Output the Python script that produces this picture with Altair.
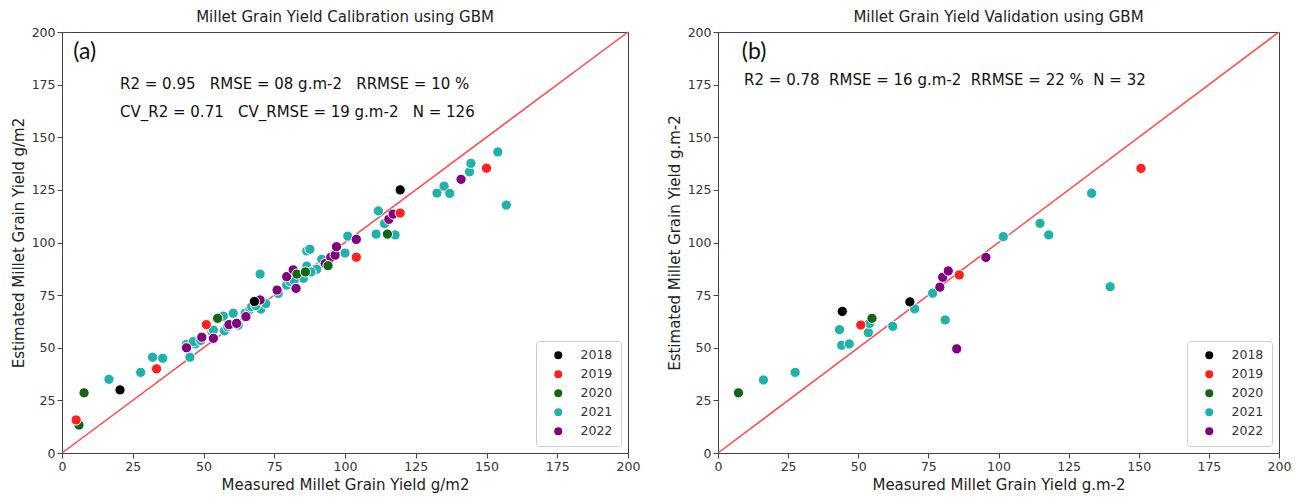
import altair as alt
import pandas as pd

years = ["2018", "2019", "2020", "2021", "2022"]
colors = ["#000000", "#ff2020", "#166416", "#20b2aa", "#800080"]
ticks = [0, 25, 50, 75, 100, 125, 150, 175, 200]

# ---------------- Calibration (a) ----------------
cal_2018_x = [20.5, 68, 119.5]
cal_2018_y = [30, 72, 125]
cal_2019_x = [5, 33.4, 51, 104, 119.5, 150]
cal_2019_y = [15.7, 40, 61, 93, 114, 135.3]
cal_2020_x = [6, 7.8, 55, 83, 86, 94, 115]
cal_2020_y = [13.3, 28.6, 64, 85, 86, 89, 104]
cal_2021_x = [16.6, 27.8, 32, 35.6, 44.5, 45.2, 47, 44, 46.4, 53, 53.5, 57.4, 57, 60.5,
              62.3, 64.7, 66.4, 67, 69.7, 70.3, 70, 76.4, 79.4, 80.6, 84, 85.3, 86.5,
              86.5, 87.6, 90, 91.8, 100, 101, 111, 111.8, 114, 117.7, 132.5, 135, 137,
              144, 144.5, 154, 157, 72, 58.5, 49, 82, 88, 96, 68.5]
cal_2021_y = [35, 38.3, 45.5, 45, 50.5, 45.5, 51.8, 51.6, 52.9, 57.6, 58.4, 58, 65, 66.4,
              60.8, 66.4, 68.3, 69.5, 71.9, 68.4, 85, 75.8, 79.8, 81.4, 83.8, 83, 88.8,
              96, 96.8, 87.3, 92, 95, 103, 104, 115, 109, 103.6, 123.5, 126.8, 123.3,
              133.6, 137.6, 143, 117.8, 71, 60, 53.5, 82, 86, 94, 70]
cal_2022_x = [44, 49.4, 53.5, 59, 61.7, 65, 70, 76, 79.4, 82.7, 81.7, 93, 95, 96.5, 97,
              104, 115.5, 117, 141]
cal_2022_y = [50, 55, 54.5, 61, 61.6, 64.8, 72.7, 77.4, 83.8, 78.2, 87, 90, 93, 94, 98,
              101.5, 111, 113.5, 130]

# ---------------- Validation (b) ----------------
val_2018_x = [44.3, 68.4]
val_2018_y = [67.3, 71.8]
val_2019_x = [50.9, 86, 150.8]
val_2019_y = [60.8, 84.6, 135.2]
val_2020_x = [7.3, 54.9]
val_2020_y = [28.6, 64]
val_2021_x = [16.2, 27.5, 43.3, 44.1, 46.8, 53.6, 54, 62.3, 70.1, 76.5, 81, 101.7, 114.8,
              117.9, 133.2, 139.8]
val_2021_y = [34.7, 38.3, 58.6, 51.2, 51.8, 57.2, 61.6, 60.2, 68.5, 75.9, 63.2, 102.8, 109.1,
              103.6, 123.4, 79]
val_2022_x = [79.1, 80.1, 82.1, 85.1, 95.5]
val_2022_y = [78.8, 83.5, 86.5, 49.5, 92.9]

# annotation texts (non-breaking spaces keep the wide gaps)
NB = "\u00a0"
cal_title = "Millet Grain Yield Calibration using GBM"
val_title = "Millet Grain Yield Validation using GBM"
cal_xtitle = "Measured Millet Grain Yield g/m2"
cal_ytitle = "Estimated Millet Grain Yield g/m2"
val_xtitle = "Measured Millet Grain Yield g.m-2"
val_ytitle = "Estimated Millet Grain Yield g.m-2"
cal_letter = ["(a)"]
cal_letter_pos = [4.0, 190.5]
cal_stats = ["R2 = 0.95" + NB * 3 + "RMSE = 08 g.m-2" + NB * 3 + "RRMSE = 10 %",
             "CV_R2 = 0.71" + NB * 3 + "CV_RMSE = 19 g.m-2" + NB * 3 + "N = 126"]
cal_stats_x = [20.5, 20.5]
cal_stats_y = [175.3, 162.1]
val_letter = ["(b)"]
val_letter_pos = [8.5, 190.5]
val_stats = ["R2 = 0.78" + NB * 2 + "RMSE = 16 g.m-2" + NB * 2 + "RRMSE = 22 %" + NB * 2 + "N = 32"]
val_stats_x = [9.3]
val_stats_y = [177.2]

draw_order = ["2021", "2022", "2020", "2018", "2019"]


def build_df(d):
    rows = []
    for yr in draw_order:
        xs, ys = d[yr]
        for a, b in zip(xs, ys):
            rows.append({"measured": a, "estimated": b, "year": yr})
    return pd.DataFrame(rows)


cal_df = build_df({"2018": (cal_2018_x, cal_2018_y), "2019": (cal_2019_x, cal_2019_y),
                   "2020": (cal_2020_x, cal_2020_y), "2021": (cal_2021_x, cal_2021_y),
                   "2022": (cal_2022_x, cal_2022_y)})
val_df = build_df({"2018": (val_2018_x, val_2018_y), "2019": (val_2019_x, val_2019_y),
                   "2020": (val_2020_x, val_2020_y), "2021": (val_2021_x, val_2021_y),
                   "2022": (val_2022_x, val_2022_y)})

line_df = pd.DataFrame({"measured": [0, 200], "estimated": [0, 200]})

FONT = "DejaVu Sans"


def axis(title):
    return alt.Axis(values=ticks, title=title, grid=False, tickSize=5, labelPadding=2,
                    labelFontSize=12.5, labelFont=FONT, labelColor="#333333",
                    titleFontSize=15, titleFont=FONT, titleFontWeight="normal",
                    titleColor="#222222", titlePadding=5, domainColor="#444444",
                    tickColor="#444444", labelFlush=False, labelOverlap=False)


def panel(df, title, xtitle, ytitle, letter, letter_pos, stats, sx, sy, w):
    X = alt.X("measured:Q", scale=alt.Scale(domain=[0, 200], nice=False, zero=False),
              axis=axis(xtitle))
    Y = alt.Y("estimated:Q", scale=alt.Scale(domain=[0, 200], nice=False, zero=False),
              axis=axis(ytitle))
    line = alt.Chart(line_df).mark_line(color="#ff4a4a", strokeWidth=1.5).encode(x=X, y=Y)
    pts = alt.Chart(df).mark_circle(size=105, opacity=1, stroke="white", strokeWidth=1).encode(
        x=X, y=Y,
        color=alt.Color("year:N", scale=alt.Scale(domain=years, range=colors),
                        legend=alt.Legend(title=None, orient="bottom-right", offset=7,
                                          fillColor="white", strokeColor="#cccccc",
                                          cornerRadius=3, padding=8, rowPadding=6,
                                          symbolSize=64, symbolOffset=8, labelOffset=16,
                                          labelFontSize=12.5, labelFont=FONT,
                                          labelColor="#333333", symbolStrokeWidth=0,
                                          symbolOpacity=1, symbolType="circle")),
    )
    letter_df = pd.DataFrame({"measured": [letter_pos[0]], "estimated": [letter_pos[1]],
                              "label": letter})
    lt = alt.Chart(letter_df).mark_text(align="left", baseline="middle", fontSize=23,
                                        font="Lato", color="#111111").encode(
        x=X, y=Y, text="label:N")
    stats_df = pd.DataFrame({"measured": sx, "estimated": sy, "label": stats})
    st = alt.Chart(stats_df).mark_text(align="left", baseline="middle", fontSize=15,
                                       font=FONT, color="#111111").encode(
        x=X, y=Y, text="label:N")
    return alt.layer(line, pts, lt, st).properties(
        width=w, height=421, title=alt.TitleParams(title))


left = panel(cal_df, cal_title, cal_xtitle, cal_ytitle, cal_letter, cal_letter_pos,
             cal_stats, cal_stats_x, cal_stats_y, 566)
right = panel(val_df, val_title, val_xtitle, val_ytitle, val_letter, val_letter_pos,
              val_stats, val_stats_x, val_stats_y, 561)

chart = alt.hconcat(left, right, spacing=90, bounds="flush").resolve_legend(
    color="independent"
).properties(
    padding={"left": 10, "top": 9, "right": 5, "bottom": 2}
).configure_view(
    stroke="#444444", strokeWidth=1
).configure_title(
    font=FONT, fontSize=15, fontWeight="normal", color="#222222", offset=1, anchor="middle"
)

chart.save("out.html", embed_options={"renderer": "svg", "actions": False})
